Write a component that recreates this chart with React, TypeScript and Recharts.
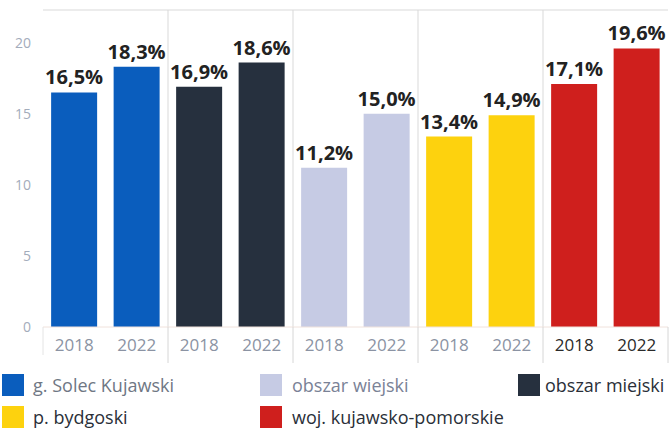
import React from "react";
import { BarChart, Bar, XAxis, YAxis, CartesianGrid, Cell, LabelList, Legend } from "recharts";

const groups = ["g. Solec Kujawski", "obszar miejski", "obszar wiejski", "p. bydgoski", "woj. kujawsko-pomorskie"];
const years = ["2018", "2022"];
const values2018 = [16.5, 16.9, 11.2, 13.4, 17.1];
const values2022 = [18.3, 18.6, 15.0, 14.9, 19.6];
const yTicks = [0, 5, 10, 15, 20];
const groupColors = ["#0a5dbd", "#26303e", "#c6cbe4", "#fdd20e", "#cf1f1d"];
const legendOrder = [
  ["g. Solec Kujawski", "obszar wiejski", "obszar miejski"],
  ["p. bydgoski", "woj. kujawsko-pomorskie"],
];

const data = groups.flatMap((g, gi) =>
  years.map((y, yi) => ({
    key: `${g}|${y}`,
    year: y,
    group: g,
    gi,
    value: yi === 0 ? values2018[gi] : values2022[gi],
  }))
);

const FONT = "'Open Sans', 'Noto Sans', sans-serif";

const XTick = (props: any) => {
  const { x, y, payload, index } = props;
  const row = data[index] || data[0];
  const half = payload && payload.offset ? payload.offset : 0;
  const color = row.gi === 4 ? "#2a2a2a" : "#8b93a3";
  return (
    <g>
      <text x={x} y={y + 18} dy="0.36em" textAnchor="middle" fontSize={17} fill={color} fontFamily={FONT}>
        {row.year}
      </text>
      {index % 2 === 1 && (
        <line x1={x + half} x2={x + half} y1={y} y2={y + 36} stroke="#d6d6d6" strokeWidth={1} />
      )}
      {index === 0 && <line x1={x - half} x2={x - half} y1={y} y2={y + 28} stroke="#e4e4e4" strokeWidth={1} />}
    </g>
  );
};

const LegendContent = () => {
  const colLeft = [2, 260, 518];
  const textGap = [9, 10, 5];
  const textColor: Record<string, string> = {
    "g. Solec Kujawski": "#6f7784",
    "obszar wiejski": "#7a8296",
    "obszar miejski": "#2a2f38",
    "p. bydgoski": "#2a2f38",
    "woj. kujawsko-pomorskie": "#2a2f38",
  };
  return (
    <div style={{ position: "relative", width: 670, height: 65, fontFamily: FONT }}>
      {legendOrder.map((row, ri) =>
        row.map((name, ci) => {
          const gi = groups.indexOf(name);
          return (
            <div
              key={name}
              style={{
                position: "absolute",
                left: colLeft[ci],
                top: 9 + ri * 32,
                height: 22,
                display: "flex",
                alignItems: "center",
                whiteSpace: "nowrap",
              }}
            >
              <span style={{ display: "inline-block", width: 22, height: 22, background: groupColors[gi] }} />
              <span style={{ marginLeft: textGap[ci], fontSize: 18, color: textColor[name] }}>{name}</span>
            </div>
          );
        })
      )}
    </div>
  );
};

const fmt = (v: any) => `${Number(v).toFixed(1).replace(".", ",")}%`;

export default function App() {
  return (
    <div style={{ position: "absolute", left: 0, top: 0, width: 670, height: 430, background: "#fff" }}>
      <BarChart
        width={670}
        height={430}
        data={data}
        margin={{ top: 10, right: 2, left: 0, bottom: 0 }}
        barCategoryGap="13%"
      >
        <CartesianGrid
          stroke="#d9d9d9"
          horizontalCoordinatesGenerator={(p: any) => [p.offset.top]}
          verticalCoordinatesGenerator={(p: any) =>
            [1, 2, 3, 4].map((k) => p.offset.left + (p.offset.width * k) / groups.length)
          }
        />
        <XAxis
          dataKey="key"
          interval={0}
          height={38}
          tickSize={0}
          tickMargin={0}
          axisLine={{ stroke: "#f0e2dc" }}
          tickLine={false}
          tick={<XTick />}
        />
        <YAxis
          width={43}
          domain={[0, 22.3]}
          ticks={yTicks}
          axisLine={false}
          tickLine={false}
          tickSize={0}
          tickMargin={12}
          tick={{ fontSize: 14, fill: "#a3acbb", fontFamily: FONT }}
        />
        <Legend verticalAlign="bottom" height={65} wrapperStyle={{ left: 0, width: 670 }} content={<LegendContent />} />
        <Bar dataKey="value" isAnimationActive={false}>
          {data.map((d) => (
            <Cell key={d.key} fill={groupColors[d.gi]} />
          ))}
          <LabelList
            dataKey="value"
            position="top"
            offset={8}
            formatter={fmt}
            style={{ fontSize: 20, fontWeight: 700, fill: "#222", fontFamily: FONT }}
          />
        </Bar>
      </BarChart>
    </div>
  );
}
